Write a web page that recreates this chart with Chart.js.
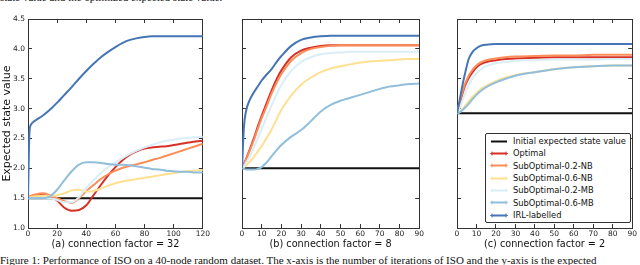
<!DOCTYPE html>
<html>
<head>
<meta charset="utf-8">
<script src="https://cdn.jsdelivr.net/npm/chart.js@4.4.1/dist/chart.umd.min.js"></script>
<style>
  body { margin: 0; width: 640px; height: 265px; overflow: hidden; background: #fff; position: relative; font-family: "DejaVu Sans", sans-serif; }
  canvas { position: absolute; top: 0; }
  .caption { position: absolute; left: 0; font-family: "Liberation Serif", serif; font-size: 11px; white-space: nowrap; color: #111; }
  #legend { position: absolute; left: 485px; top: 133px; width: 144px; height: 88px; border: 1px solid #333; border-radius: 2px; background: #fff; font-size: 8.3px; color: #111; }
  #legend .row { position: absolute; left: 4px; height: 10px; line-height: 10px; white-space: nowrap; }
  #legend svg { position: absolute; left: 0; top: 1.5px; }
  #legend span { position: absolute; left: 23px; top: 0; }
</style>
</head>
<body>
<div class="caption" style="top:-9px">state value and the optimized expected state value.</div>
<canvas id="chartA" width="216" height="253" style="left:0"></canvas>
<canvas id="chartB" width="200" height="253" style="left:230px"></canvas>
<canvas id="chartC" width="198" height="253" style="left:445px"></canvas>
<div id="legend"></div>
<div class="caption" style="top:254px">Figure 1: Performance of ISO on a 40-node random dataset. The x-axis is the number of iterations of ISO and the y-axis is the expected</div>

<script>
// --- series names / colours (legend order) ---
const seriesNames = ['Initial expected state value', 'Optimal', 'SubOptimal-0.2-NB', 'SubOptimal-0.6-NB', 'SubOptimal-0.2-MB', 'SubOptimal-0.6-MB', 'IRL-labelled'];
const seriesColors = ['#111111', '#d73027', '#fc8d59', '#fee090', '#d9eef6', '#91bfdb', '#4575b4'];

// --- tick labels ---
const yTicks = [1.0, 1.5, 2.0, 2.5, 3.0, 3.5, 4.0, 4.5];
const xTicksA = [0, 20, 40, 60, 80, 100, 120];
const xTicksBC = [0, 10, 20, 30, 40, 50, 60, 70, 80, 90];
const panelTitles = ['(a) connection factor = 32', '(b) connection factor = 8', '(c) connection factor = 2'];

// --- panel (a): connection factor = 32 ---
const xA = [0, 1, 2, 5, 10, 15, 20, 25, 30, 35, 40, 45, 50, 55, 60, 65, 70, 75, 80, 85, 90, 95, 100, 105, 110, 115, 120];
const xInitA = [0, 120];
const initialA = [1.5, 1.5];
const optimalA = [1.5, 1.52, 1.53, 1.55, 1.56, 1.54, 1.46, 1.34, 1.29, 1.3, 1.38, 1.55, 1.72, 1.88, 2.02, 2.14, 2.23, 2.29, 2.33, 2.35, 2.36, 2.37, 2.39, 2.41, 2.43, 2.45, 2.46];
const sub02nbA = [1.5, 1.53, 1.54, 1.56, 1.58, 1.55, 1.5, 1.45, 1.42, 1.5, 1.62, 1.72, 1.82, 1.9, 1.96, 2.01, 2.04, 2.07, 2.1, 2.14, 2.17, 2.21, 2.25, 2.29, 2.33, 2.37, 2.41];
const sub06nbA = [1.5, 1.51, 1.52, 1.53, 1.54, 1.54, 1.55, 1.58, 1.63, 1.64, 1.61, 1.62, 1.66, 1.71, 1.75, 1.78, 1.8, 1.82, 1.84, 1.86, 1.88, 1.9, 1.92, 1.94, 1.95, 1.96, 1.97];
const sub02mbA = [1.5, 1.5, 1.5, 1.5, 1.5, 1.5, 1.47, 1.43, 1.43, 1.52, 1.67, 1.8, 1.92, 2.02, 2.1, 2.17, 2.24, 2.3, 2.35, 2.39, 2.43, 2.46, 2.48, 2.5, 2.51, 2.52, 2.53];
const sub06mbA = [1.5, 1.5, 1.5, 1.5, 1.5, 1.53, 1.64, 1.8, 1.95, 2.06, 2.1, 2.1, 2.09, 2.07, 2.06, 2.06, 2.05, 2.03, 2.01, 1.99, 1.98, 1.96, 1.95, 1.94, 1.94, 1.93, 1.93];
const irlA = [1.5, 2.6, 2.73, 2.8, 2.88, 2.98, 3.1, 3.23, 3.36, 3.5, 3.63, 3.75, 3.86, 3.95, 4.03, 4.1, 4.15, 4.18, 4.2, 4.21, 4.21, 4.21, 4.21, 4.21, 4.21, 4.21, 4.21];

// --- panel (b): connection factor = 8 ---
const xB = [0, 1, 2, 4, 6, 8, 10, 12, 15, 18, 20, 25, 30, 35, 40, 45, 50, 55, 60, 65, 70, 75, 80, 85, 90];
const xInitB = [0, 90];
const initialB = [2.0, 2.0];
const optimalB = [2.0, 2.08, 2.15, 2.32, 2.5, 2.7, 2.88, 3.05, 3.3, 3.52, 3.64, 3.86, 3.97, 4.02, 4.05, 4.06, 4.06, 4.06, 4.06, 4.06, 4.06, 4.06, 4.06, 4.06, 4.06];
const sub02nbB = [2.0, 2.07, 2.14, 2.3, 2.47, 2.66, 2.84, 3.0, 3.25, 3.46, 3.58, 3.8, 3.93, 4.0, 4.03, 4.05, 4.06, 4.06, 4.06, 4.06, 4.06, 4.06, 4.06, 4.06, 4.06];
const sub06nbB = [2.0, 2.02, 2.05, 2.11, 2.19, 2.28, 2.37, 2.48, 2.65, 2.85, 2.98, 3.22, 3.4, 3.52, 3.61, 3.67, 3.71, 3.74, 3.77, 3.79, 3.8, 3.81, 3.82, 3.83, 3.83];
const sub02mbB = [2.0, 2.04, 2.09, 2.2, 2.34, 2.5, 2.66, 2.82, 3.05, 3.27, 3.4, 3.63, 3.78, 3.86, 3.91, 3.93, 3.94, 3.95, 3.95, 3.95, 3.95, 3.95, 3.95, 3.95, 3.95];
const sub06mbB = [2.0, 1.99, 1.98, 1.98, 1.98, 1.99, 2.02, 2.08, 2.2, 2.32, 2.39, 2.53, 2.64, 2.79, 2.95, 3.06, 3.13, 3.18, 3.23, 3.28, 3.33, 3.37, 3.39, 3.41, 3.42];
const irlB = [2.0, 2.7, 2.95, 3.15, 3.27, 3.37, 3.47, 3.55, 3.66, 3.8, 3.88, 4.05, 4.15, 4.19, 4.21, 4.22, 4.22, 4.22, 4.22, 4.22, 4.22, 4.22, 4.22, 4.22, 4.22];

// --- panel (c): connection factor = 2 ---
const xC = [0, 1, 2, 3, 4, 6, 8, 10, 12, 15, 20, 25, 30, 40, 50, 60, 70, 80, 90];
const xInitC = [0, 90];
const initialC = [2.92, 2.92];
const optimalC = [2.92, 3.04, 3.15, 3.27, 3.37, 3.51, 3.61, 3.69, 3.74, 3.78, 3.81, 3.83, 3.84, 3.85, 3.86, 3.86, 3.86, 3.86, 3.86];
const sub02nbC = [2.92, 3.06, 3.18, 3.3, 3.4, 3.55, 3.65, 3.72, 3.77, 3.81, 3.84, 3.86, 3.87, 3.88, 3.89, 3.89, 3.9, 3.9, 3.9];
const sub06nbC = [2.92, 2.94, 2.97, 3.0, 3.04, 3.12, 3.2, 3.26, 3.32, 3.38, 3.46, 3.52, 3.56, 3.61, 3.66, 3.69, 3.71, 3.72, 3.72];
const sub02mbC = [2.92, 2.98, 3.06, 3.15, 3.24, 3.39, 3.51, 3.59, 3.65, 3.71, 3.76, 3.78, 3.8, 3.81, 3.82, 3.82, 3.82, 3.83, 3.83];
const sub06mbC = [2.92, 2.93, 2.95, 2.98, 3.01, 3.08, 3.16, 3.23, 3.29, 3.36, 3.44, 3.5, 3.55, 3.61, 3.66, 3.69, 3.71, 3.72, 3.72];
const irlC = [2.92, 3.08, 3.25, 3.42, 3.57, 3.83, 3.95, 4.01, 4.05, 4.07, 4.08, 4.08, 4.08, 4.08, 4.08, 4.08, 4.08, 4.08, 4.08];


function zip(xs, ys) {
    return xs.map((x, i) => ({ x: x, y: ys[i] }));
}

function makeDatasets(xs, xInit, initial, curves) {
    const sets = [{
        label: seriesNames[0],
        data: zip(xInit, initial),
        borderColor: seriesColors[0],
        borderWidth: 2,
        order: 6
    }];
    curves.forEach((ys, i) => {
        sets.push({
            label: seriesNames[i + 1],
            data: zip(xs, ys),
            borderColor: seriesColors[i + 1],
            borderWidth: 2,
            cubicInterpolationMode: 'monotone',
            order: 5 - i
        });
    });
    return sets;
}

// matplotlib-style frame: axis with inward ticks, no grid
function frameAxis(position, min, max, ticks, size) {
    return {
        type: 'linear', position: position, min: min, max: max,
        afterBuildTicks: s => { s.ticks = ticks.map(v => ({ value: v })); },
        afterFit: s => { if (s.isHorizontal()) s.height = size; else s.width = size; },
        grid: { drawOnChartArea: false, tickLength: -4, color: '#333' },
        border: { color: '#333', width: 1 },
        ticks: { display: false }
    };
}

function buildChart(canvasId, datasets, xMax, xTicks, title, showY, yWidth) {
    const x = frameAxis('bottom', 0, xMax, xTicks, 25);
    x.ticks = { display: true, padding: 6, maxRotation: 0, autoSkip: false, color: '#222', font: { size: 7.5, family: 'DejaVu Sans' }, callback: v => String(v) };
    x.title = { display: true, text: title, color: '#111', font: { size: 9.7, family: 'DejaVu Sans' }, padding: { top: 0, bottom: 3 } };

    const y = frameAxis('left', 1, 4.5, yTicks, yWidth);
    y.ticks = { display: showY, padding: 7, color: '#222', font: { size: 7.5, family: 'DejaVu Sans' }, callback: v => v.toFixed(1) };
    y.title = { display: showY, text: 'Expected state value', color: '#111', font: { size: 11, family: 'DejaVu Sans' }, padding: { top: 1, bottom: 0 } };

    new Chart(document.getElementById(canvasId), {
        type: 'line',
        data: { datasets: datasets },
        options: {
            responsive: false,
            animation: false,
            events: [],
            layout: { padding: { top: 19, right: 9, bottom: 0, left: 0 } },
            elements: { point: { radius: 0 } },
            plugins: { legend: { display: false }, tooltip: { enabled: false } },
            scales: {
                x: x,
                x2: frameAxis('top', 0, xMax, xTicks, 0),
                y: y,
                y2: frameAxis('right', 1, 4.5, yTicks, 0)
            }
        }
    });
}

function buildLegend() {
    const legend = document.getElementById('legend');
    seriesNames.forEach((name, i) => {
        const row = document.createElement('div');
        row.className = 'row';
        row.style.top = (2 + i * 12.35) + 'px';
        const c = seriesColors[i];
        const marks = i === 0 ? '' :
            `<path d="M2 1.5 V5.5 M0 3.5 H4 M16 1.5 V5.5 M14 3.5 H18" stroke="${c}" stroke-width="0.8"/>`;
        row.innerHTML = `
            <svg width="18" height="7"><line x1="1" y1="3.5" x2="17" y2="3.5" stroke="${c}" stroke-width="2"/>${marks}</svg>
            <span>${name}</span>
        `;
        legend.appendChild(row);
    });
}

buildChart('chartA', makeDatasets(xA, xInitA, initialA, [optimalA, sub02nbA, sub06nbA, sub02mbA, sub06mbA, irlA]), 120, xTicksA, panelTitles[0], true, 28);
buildChart('chartB', makeDatasets(xB, xInitB, initialB, [optimalB, sub02nbB, sub06nbB, sub02mbB, sub06mbB, irlB]), 90, xTicksBC, panelTitles[1], false, 12);
buildChart('chartC', makeDatasets(xC, xInitC, initialC, [optimalC, sub02nbC, sub06nbC, sub02mbC, sub06mbC, irlC]), 90, xTicksBC, panelTitles[2], false, 12);
buildLegend();
</script>
</body>
</html>
